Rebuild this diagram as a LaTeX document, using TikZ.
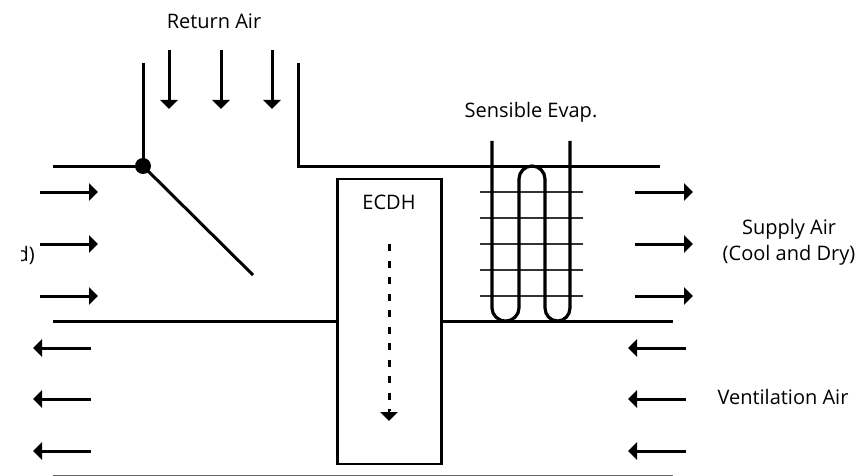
\documentclass[tikz,border=0pt]{standalone}
\usepackage{fontspec}
\setmainfont{Open Sans}
\usetikzlibrary{arrows.meta,positioning}
\tikzset{
  duct/.style={line width=3pt},
  flow/.style={line width=3pt,-{Triangle[length=9pt,width=17pt]}},
  fin/.style={line width=1.2pt,black!80},
  lbl/.style={font=\fontsize{20}{26}\selectfont,align=center}
}
\begin{document}
\begin{tikzpicture}[x=1pt,y=-1pt]
\useasboundingbox (0,0) rectangle (859,476);
\coordinate (ductTL) at (53,166);
\coordinate (pivot) at (143,166);
\coordinate (retL) at (143,63);
\coordinate (damperEnd) at (253,275);
\coordinate (retR) at (298,63);
\coordinate (retCorner) at (298,166);
\coordinate (ductTR) at (660,166);
\coordinate (midL) at (53,321);
\coordinate (midR) at (673,321);
\coordinate (botL) at (53,475.5);
\coordinate (botR) at (673,475.5);
% ducts
\draw[duct] (ductTL)--(pivot)--(retL);
\draw[duct] (retR)--(retCorner)--(ductTR);
\draw[duct] (pivot)--(damperEnd);
\draw[duct] (midL)--(midR);
\draw[line width=1.6pt,black!60] (botL)--(botR);
\fill (pivot) circle (8pt);
% reheat box
\node[draw,fill=white,line width=2.6pt,minimum width=104pt,minimum height=285pt,inner sep=0pt] (ecdhBox) at (389.5,321.5) {};
\node[lbl] (ecdhLbl) at (389,202) {ECDH};
\coordinate (dashTop) at (389,244);
\coordinate (dashEnd) at (389,421);
\draw[line width=3pt,dash pattern=on 7pt off 9.5pt] (dashTop)--(389,411);
\draw[line width=2.6pt,-{Triangle[length=9pt,width=17pt]}] (389,409)--(dashEnd);
% fins and coil
\foreach \y in {192,218,244,270,296}
  \draw[fin] (480,\y)--(583,\y);
\draw[line width=3.2pt,line join=round] (492,141)--(492,308) arc (180:0:13.5 and 13)
  --(519,179) arc (180:0:13 and -13)
  --(545,308) arc (180:0:12.5 and 13)--(570,141);
% air flow
\foreach \x in {169,221,272}
  \draw[flow] (\x,50)--(\x,109);
\foreach \y in {192,244,296}{
  \draw[flow] (40,\y)--(98,\y);
  \draw[flow] (635,\y)--(693,\y);
}
\foreach \y in {348,399,451}{
  \draw[flow] (91,\y)--(33,\y);
  \draw[flow] (686,\y)--(628,\y);
}
% labels
\node[lbl] (returnLbl) at (214,21) {Return Air};
\node[lbl] (evapLbl) at (531,112) {Sensible Evap.};
\node[lbl] (supplyLbl) at (789,242.5) {Supply Air\\(Cool and Dry)};
\node[lbl] (ventLbl) at (783,397) {Ventilation Air};
\begin{scope}
\clip (21,240) rectangle (60,270);
\node[lbl,anchor=east,inner sep=0pt] (returnCut) at (35,255) {d)};
\end{scope}
\end{tikzpicture}
\end{document}
